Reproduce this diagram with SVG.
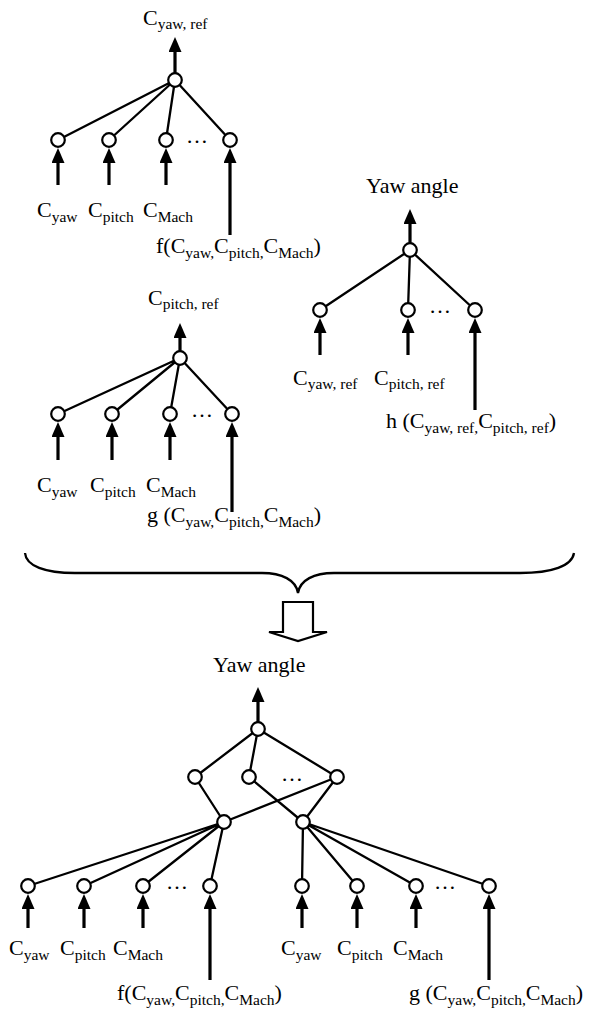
<svg xmlns="http://www.w3.org/2000/svg" width="589" height="1011" viewBox="0 0 589 1011">
<style>
.e{stroke:#000;stroke-width:2.3;fill:none}
.a{stroke:#000;stroke-width:3.2;fill:none;marker-end:url(#ah)}
.n{fill:#fff;stroke:#000;stroke-width:2.2}
text{font-family:"Liberation Serif","Times New Roman",serif;font-size:22px;fill:#000}
.s{font-size:15.5px}
.big{font-size:22px}
</style>
<defs>
<marker id="ah" markerUnits="userSpaceOnUse" markerWidth="16" markerHeight="14" refX="2" refY="6.5" orient="auto"><path d="M0,0 L15,6.5 L0,13 z" fill="#000"/></marker>
</defs>
<rect width="589" height="1011" fill="#fff"/>

<g id="connectors">
<!-- tree 1 -->
<path class="e" d="M175,80 L58,140 M175,80 L109,140 M175,80 L166,140 M175,80 L230,140"/>
<path class="a" d="M175,73 L175,50"/>
<path class="a" d="M58,185 L58,161"/>
<path class="a" d="M109,185 L109,161"/>
<path class="a" d="M166,185 L166,161"/>
<path class="a" d="M230,235 L230,161"/>
<!-- right tree -->
<path class="e" d="M410,250 L320,310 M410,250 L408,310 M410,250 L475,310"/>
<path class="a" d="M410,243 L410,222"/>
<path class="a" d="M320,355 L320,331"/>
<path class="a" d="M408,355 L408,331"/>
<path class="a" d="M475,410 L475,331"/>
<!-- middle-left tree -->
<path class="e" d="M180,358 L58,414 M180,358 L112,414 M180,358 L170,414 M180,358 L232,414"/>
<path class="a" d="M180,351 L180,336"/>
<path class="a" d="M58,460 L58,435"/>
<path class="a" d="M112,460 L112,435"/>
<path class="a" d="M170,460 L170,435"/>
<path class="a" d="M232,512 L232,435"/>
<!-- bottom tree -->
<path class="a" d="M258,722 L258,700"/>
<path class="e" d="M258,729 L195,777 M258,729 L249,777 M258,729 L337,777"/>
<path class="e" d="M195,777 L224,822 M249,777 L303,822 M337,777 L224,822 M337,777 L303,822"/>
<path class="e" d="M224,822 L28,886 M224,822 L84,886 M224,822 L143,886 M224,822 L210,886"/>
<path class="e" d="M303,822 L302,886 M303,822 L357,886 M303,822 L416,886 M303,822 L489,886"/>
<path class="a" d="M28,928 L28,907"/>
<path class="a" d="M84,928 L84,907"/>
<path class="a" d="M143,928 L143,907"/>
<path class="a" d="M210,980 L210,907"/>
<path class="a" d="M302,928 L302,907"/>
<path class="a" d="M357,928 L357,907"/>
<path class="a" d="M416,928 L416,907"/>
<path class="a" d="M489,980 L489,907"/>
</g>

<g id="brace">
<path class="e" d="M25,553 C26,566 45,573 75,573 L262,573 C282,573 296,580 298,593 C300,580 314,573 334,573 L520,573 C552,573 572,566 574,553"/>
</g>
<g id="hollow-arrow">
<path d="M283,602 L313,602 L313,632 L327,632 L298,641 L269,632 L283,632 Z" fill="#fff" stroke="#000" stroke-width="2.2"/>
</g>

<g id="tree1">
<text x="143" y="25">C<tspan class="s" dy="4">yaw, ref</tspan></text>
<circle class="n" cx="175" cy="80" r="6.8"/>
<circle class="n" cx="58" cy="140" r="6.8"/>
<circle class="n" cx="109" cy="140" r="6.8"/>
<circle class="n" cx="166" cy="140" r="6.8"/>
<circle class="n" cx="230" cy="140" r="6.8"/>
<text x="186" y="143">…</text>
<text x="37" y="217">C<tspan class="s" dy="5">yaw</tspan></text>
<text x="88" y="217">C<tspan class="s" dy="5">pitch</tspan></text>
<text x="143" y="217">C<tspan class="s" dy="5">Mach</tspan></text>
<text x="156" y="253">f(C<tspan class="s" dy="5">yaw,</tspan><tspan dy="-5">C</tspan><tspan class="s" dy="5">pitch,</tspan><tspan dy="-5">C</tspan><tspan class="s" dy="5">Mach</tspan><tspan dy="-5">)</tspan></text>
</g>

<g id="tree2">
<text class="big" x="366" y="193">Yaw angle</text>
<circle class="n" cx="410" cy="250" r="6.8"/>
<circle class="n" cx="320" cy="310" r="6.8"/>
<circle class="n" cx="408" cy="310" r="6.8"/>
<circle class="n" cx="475" cy="310" r="6.8"/>
<text x="429" y="313">…</text>
<text x="293" y="385">C<tspan class="s" dy="4">yaw, ref</tspan></text>
<text x="374" y="385">C<tspan class="s" dy="4">pitch, ref</tspan></text>
<text x="386" y="428">h (C<tspan class="s" dy="5">yaw, ref,</tspan><tspan dy="-5">C</tspan><tspan class="s" dy="5">pitch, ref</tspan><tspan dy="-5">)</tspan></text>
</g>

<g id="tree3">
<text x="148" y="305">C<tspan class="s" dy="4">pitch, ref</tspan></text>
<circle class="n" cx="180" cy="358" r="6.8"/>
<circle class="n" cx="58" cy="414" r="6.8"/>
<circle class="n" cx="112" cy="414" r="6.8"/>
<circle class="n" cx="170" cy="414" r="6.8"/>
<circle class="n" cx="232" cy="414" r="6.8"/>
<text x="191" y="417">…</text>
<text x="37" y="492">C<tspan class="s" dy="5">yaw</tspan></text>
<text x="90" y="492">C<tspan class="s" dy="5">pitch</tspan></text>
<text x="146" y="492">C<tspan class="s" dy="5">Mach</tspan></text>
<text x="147" y="522">g (C<tspan class="s" dy="5">yaw,</tspan><tspan dy="-5">C</tspan><tspan class="s" dy="5">pitch,</tspan><tspan dy="-5">C</tspan><tspan class="s" dy="5">Mach</tspan><tspan dy="-5">)</tspan></text>
</g>

<g id="tree-combined">
<text class="big" x="213" y="672">Yaw angle</text>
<circle class="n" cx="258" cy="729" r="6.8"/>
<circle class="n" cx="195" cy="777" r="6.8"/>
<circle class="n" cx="249" cy="777" r="6.8"/>
<circle class="n" cx="337" cy="777" r="6.8"/>
<text x="281" y="781">…</text>
<circle class="n" cx="224" cy="822" r="6.8"/>
<circle class="n" cx="303" cy="822" r="6.8"/>
<circle class="n" cx="28" cy="886" r="6.8"/>
<circle class="n" cx="84" cy="886" r="6.8"/>
<circle class="n" cx="143" cy="886" r="6.8"/>
<circle class="n" cx="210" cy="886" r="6.8"/>
<text x="166" y="889">…</text>
<circle class="n" cx="302" cy="886" r="6.8"/>
<circle class="n" cx="357" cy="886" r="6.8"/>
<circle class="n" cx="416" cy="886" r="6.8"/>
<circle class="n" cx="489" cy="886" r="6.8"/>
<text x="434" y="889">…</text>
<text x="9" y="955">C<tspan class="s" dy="5">yaw</tspan></text>
<text x="60" y="955">C<tspan class="s" dy="5">pitch</tspan></text>
<text x="113" y="955">C<tspan class="s" dy="5">Mach</tspan></text>
<text x="281" y="955">C<tspan class="s" dy="5">yaw</tspan></text>
<text x="337" y="955">C<tspan class="s" dy="5">pitch</tspan></text>
<text x="393" y="955">C<tspan class="s" dy="5">Mach</tspan></text>
<text x="117" y="1000">f(C<tspan class="s" dy="5">yaw,</tspan><tspan dy="-5">C</tspan><tspan class="s" dy="5">pitch,</tspan><tspan dy="-5">C</tspan><tspan class="s" dy="5">Mach</tspan><tspan dy="-5">)</tspan></text>
<text x="409" y="1000">g (C<tspan class="s" dy="5">yaw,</tspan><tspan dy="-5">C</tspan><tspan class="s" dy="5">pitch,</tspan><tspan dy="-5">C</tspan><tspan class="s" dy="5">Mach</tspan><tspan dy="-5">)</tspan></text>
</g>
</svg>
